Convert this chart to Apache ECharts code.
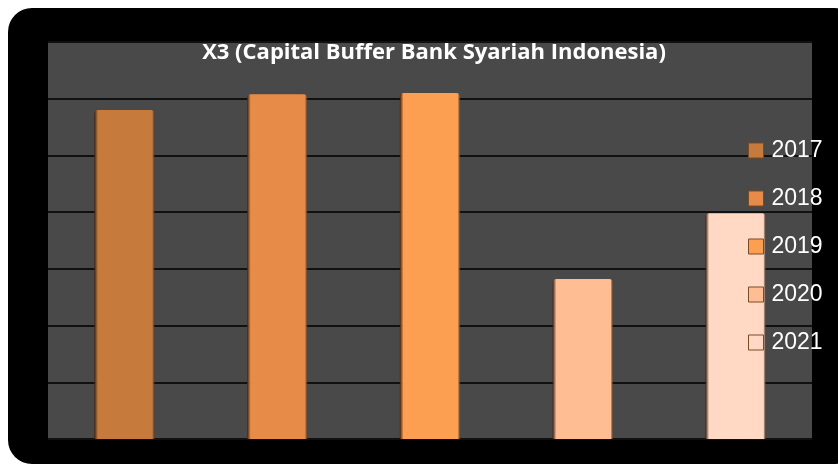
<!DOCTYPE html>
<html style="height: 100%">
<head>
<meta charset="utf-8">
<script src="https://cdn.jsdelivr.net/npm/echarts@6/dist/echarts.min.js"></script>
</head>
<body style="height: 100%; margin: 0; background: #fff">
<div id="container" style="width: 838px; height: 466px"></div>
<script type="text/javascript">
// data (scale in grid steps)
var years = ['2017', '2018', '2019', '2020', '2021'];
var values = [5.80, 6.08, 6.10, 2.82, 3.98];
var colors = ['#c67a3c', '#e68c48', '#fd9f50', '#ffbd94', '#ffd9c3'];

function shade(c) {
    return new echarts.graphic.LinearGradient(0, 0, 1, 0, [
        { offset: 0, color: 'rgba(60,30,10,0.85)' },
        { offset: 0.06, color: c },
        { offset: 0.96, color: c },
        { offset: 1, color: 'rgba(90,60,40,0.6)' }
    ]);
}

var series = years.map(function (y, i) {
    var d = years.map(function (_, j) {
        if (j !== i) return '-';
        return { value: values[i], itemStyle: { color: shade(colors[i]) } };
    });
    return {
        name: y,
        type: 'bar',
        stack: 'all',
        barWidth: '39.5%',
        data: d,
        itemStyle: { color: colors[i], borderRadius: [4, 4, 0, 0] },
        silent: true
    };
});

var myChart = echarts.init(document.getElementById('container'));
var option = {
    animation: false,
    backgroundColor: '#fff',
    graphic: [{
        type: 'rect',
        z: -10,
        shape: { x: 8, y: 8, width: 850, height: 456, r: 24 },
        style: { fill: '#000' }
    }],
    title: {
        text: 'X3 (Capital Buffer Bank Syariah Indonesia)',
        left: 429,
        textAlign: 'center',
        top: 37,
        textStyle: { color: '#fff', fontFamily: 'Open Sans', fontWeight: 'bold', fontSize: 22 }
    },
    legend: {
        orient: 'vertical',
        left: 743,
        top: 134,
        itemWidth: 15,
        itemHeight: 15,
        itemGap: 25,
        icon: 'rect',
        data: years.map(function (y, i) {
            return { name: y, itemStyle: { color: colors[i], borderColor: '#7a4a25', borderWidth: 1 } };
        }),
        textStyle: { color: '#fff', fontFamily: 'Liberation Sans', fontSize: 23, padding: [0, 0, 0, 3] }
    },
    grid: {
        left: 48, right: 26, top: 42, bottom: 27,
        show: true, backgroundColor: '#494949', borderWidth: 0
    },
    xAxis: {
        type: 'category',
        data: years,
        axisLine: { show: false },
        axisTick: { show: false },
        axisLabel: { show: false }
    },
    yAxis: {
        type: 'value',
        min: 0, max: 7, interval: 1,
        axisLabel: { show: false },
        axisLine: { show: false },
        axisTick: { show: false },
        splitLine: { lineStyle: { color: '#111', width: 2 } }
    },
    series: series
};
myChart.setOption(option);
</script>
</body>
</html>
